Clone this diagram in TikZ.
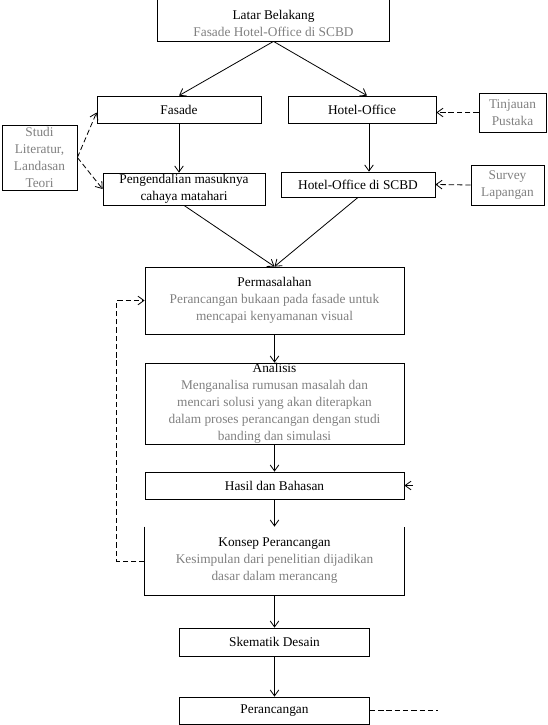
\documentclass[tikz,border=0pt]{standalone}
\usepackage{fontspec}
\setmainfont{Liberation Serif}
\usetikzlibrary{arrows.meta,calc}
\definecolor{txtgray}{gray}{0.5}
\begin{document}
\begin{tikzpicture}[x=0.75pt,y=-0.75pt,line width=0.6pt,
  box/.style={draw,inner sep=0pt,align=center,font=\fontsize{10}{12.75}\selectfont},
  openbox/.style={box,draw=none},
  graybox/.style={box,text=txtgray},
  arr/.style={-{Straight Barb[length=4.5pt,width=6.5pt]}},
  dasharr/.style={arr,dash pattern=on 4pt off 2.2pt},
  dashline/.style={dash pattern=on 4pt off 2.2pt}]
\useasboundingbox (0,0) rectangle (547,725);

\node[openbox,text=txtgray,minimum width=173.25pt,minimum height=27pt] (latar) at (273.5,23)
  {\textcolor{black}{Latar Belakang}\\Fasade Hotel-Office di SCBD};
\draw (latar.south west |- 0,0) |- (latar.south east) -- (latar.south east |- 0,0);

\node[box,minimum width=123pt,minimum height=20.25pt] (fasade) at (179,109.5) {Fasade};
\node[box,minimum width=111pt,minimum height=20.25pt] (hotel) at (362,109.5) {Hotel-Office};
\node[graybox,minimum width=50.25pt,minimum height=29.25pt] (tinjauan) at (512.5,112.5) {Tinjauan\\Pustaka};
\node[graybox,minimum width=56.25pt,minimum height=48.75pt] (studi) at (39.5,157.5) {Studi\\Literatur,\\Landasan\\Teori};
\node[box,minimum width=121.5pt,minimum height=24pt] (peng) at (184,189) {Pengendalian masuknya\\cahaya matahari};
\node[box,minimum width=115.5pt,minimum height=18.75pt] (hoscbd) at (358,184.5) {Hotel-Office di SCBD};
\node[graybox,minimum width=54.75pt,minimum height=30pt] (survey) at (507.5,185) {Survey\\Lapangan};

\node[graybox,minimum width=194.25pt,minimum height=50.25pt] (perm) at (274.5,300.5)
  {\textcolor{black}{Permasalahan}\\Perancangan bukaan pada fasade untuk\\mencapai kenyamanan visual};
\node[graybox,minimum width=194.25pt,minimum height=60.75pt] (analisis) at (274.5,403.5)
  {\textcolor{black}{Analisis}\\Menganalisa rumusan masalah dan\\mencari solusi yang akan diterapkan\\dalam proses perancangan dengan studi\\banding dan simulasi};
\node[box,minimum width=194.25pt,minimum height=20.25pt] (hasil) at (274.5,485.5) {Hasil dan Bahasan};
\node[openbox,text=txtgray,minimum width=194.25pt,minimum height=51pt] (konsep) at (274.5,561)
  {\textcolor{black}{Konsep Perancangan}\\Kesimpulan dari penelitian dijadikan\\dasar dalam merancang};
\draw (konsep.north west) |- (konsep.south east) -- (konsep.north east);
\node[box,minimum width=142.5pt,minimum height=21pt] (skematik) at (274.5,642) {Skematik Desain};
\node[box,minimum width=142.5pt,minimum height=20.25pt] (peranc) at (274.5,710.5) {Perancangan};

\draw[arr] (latar.south) -- (fasade.north);
\draw[arr] (latar.south) -- ([xshift=3.75pt]hotel.north);
\draw[arr] (fasade.south) -- (fasade.south |- peng.north);
\path ([xshift=5.25pt]hotel.south) coordinate (hoa);
\draw[arr] (hoa) -- (hoa |- hoscbd.north);
\draw[dasharr] (tinjauan.west) -- (tinjauan.west -| hotel.east);
\draw[dasharr] (survey.west) -- (hoscbd.east);
\draw[dasharr] (studi.east) -- ([yshift=-2.25pt]fasade.west);
\draw[dasharr] (studi.east) -- (peng.west);
\draw[arr] (peng.south) -- (perm.north);
\draw[arr] (hoscbd.south) -- (perm.north);

\draw[arr] (perm) -- (analisis);
\draw[arr] (analisis) -- (hasil);
\draw[arr] (hasil) -- (konsep.north);
\draw[arr] (konsep.south) -- (skematik);
\draw[arr] (skematik) -- (peranc);
\draw[dasharr] (konsep.west) -- ++(-28,0) |- (perm.west);
\draw[dashline] (peranc.east) -- ++(68,0);
\coordinate (hasilin) at (413,485.5);
\draw[arr] (hasilin) -- (hasil.east);
\end{tikzpicture}
\end{document}
